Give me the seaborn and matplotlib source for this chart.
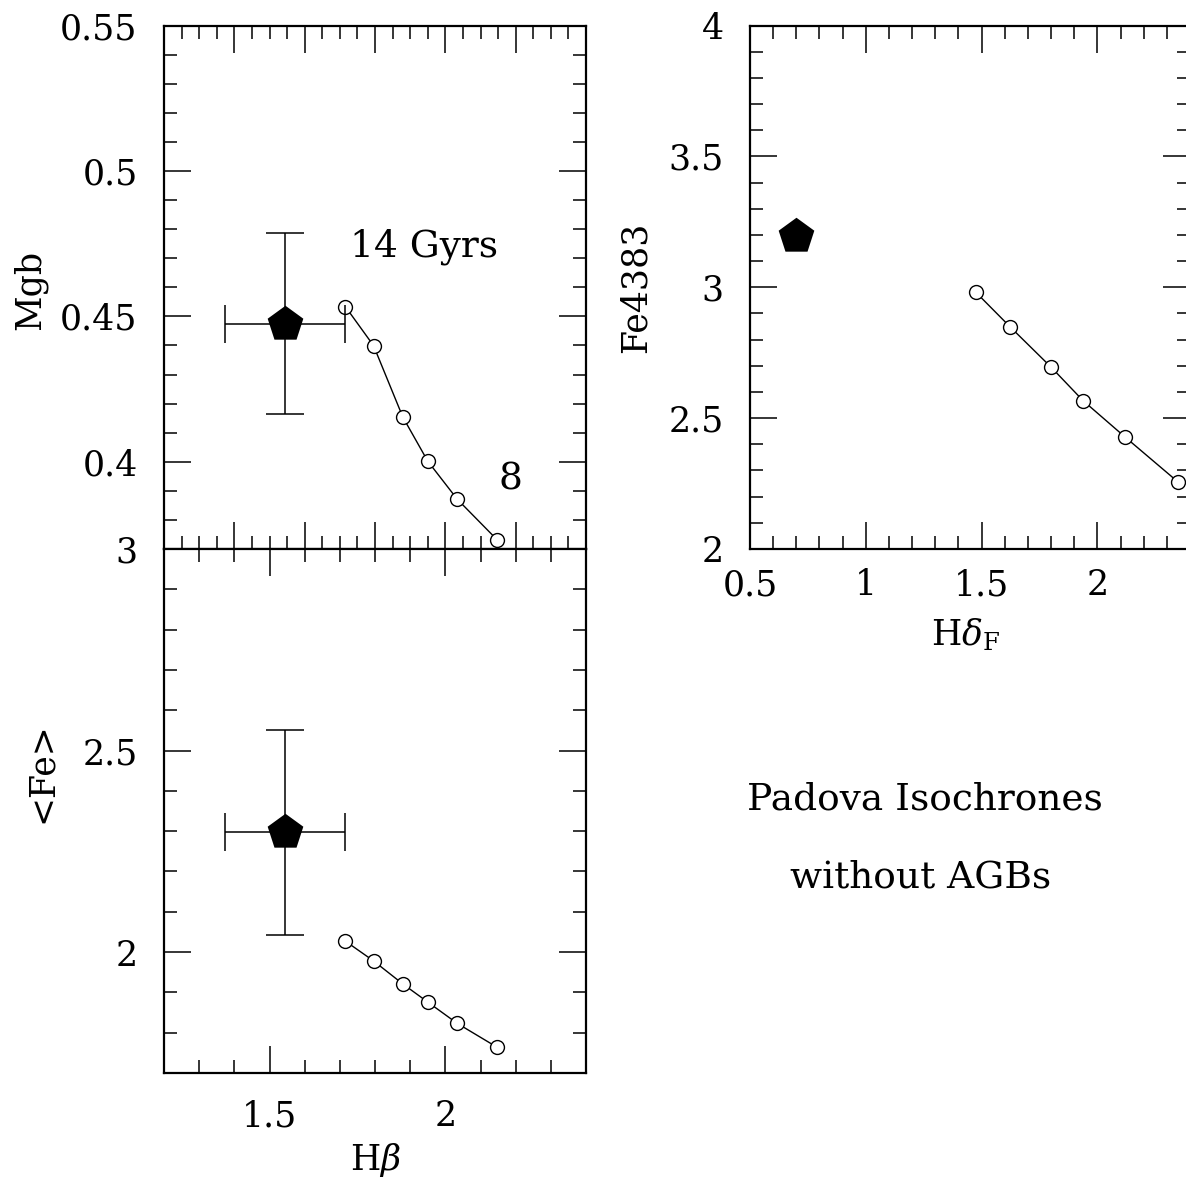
import numpy as np
import pandas as pd
import matplotlib
matplotlib.use("Agg")
import matplotlib.pyplot as plt
from matplotlib.ticker import MultipleLocator, FuncFormatter
import seaborn as sns

# ---------------- data ----------------
# model grid (Padova isochrones, without AGBs), 14 Gyr -> 8 Gyr
hbeta_model = [1.716, 1.796, 1.879, 1.950, 2.034, 2.147]
mgb_model = [0.4533, 0.4399, 0.4154, 0.4002, 0.3871, 0.3732]
fe_model = [2.027, 1.978, 1.921, 1.876, 1.823, 1.764]
hdelta_model = [1.475, 1.624, 1.801, 1.938, 2.118, 2.347]
fe4383_model = [2.981, 2.848, 2.694, 2.567, 2.429, 2.257]

# observed point
obs_hbeta = [1.544]
obs_hbeta_err = [0.171]
obs_mgb = [0.4475]
obs_mgb_err = [0.031]
obs_fe = [2.297]
obs_fe_err = [0.255]
obs_hdelta = [0.698]
obs_fe4383 = [3.196]

# ---------------- style ----------------
sns.set_theme(style="ticks")
plt.rcParams["font.family"] = ["DejaVu Serif"]
plt.rcParams["mathtext.fontset"] = "dejavuserif"
plt.rcParams["text.color"] = "black"
plt.rcParams["axes.labelcolor"] = "black"
plt.rcParams["xtick.color"] = "black"
plt.rcParams["ytick.color"] = "black"

W, H = 1186, 1179
fig = plt.figure(figsize=(W / 100, H / 100), dpi=100)
fig.patch.set_facecolor("white")

def rect(x0, y0, x1, y1):
    return [x0 / W, 1 - y1 / H, (x1 - x0) / W, (y1 - y0) / H]

ax1 = fig.add_axes(rect(164, 25.5, 586, 549))
ax2 = fig.add_axes(rect(164, 549, 586, 1073))
ax3 = fig.add_axes(rect(750, 25.5, 1190, 549))

gfmt = FuncFormatter(lambda v, p: "%g" % round(v, 4))
TICK_FS = 25
LAB_FS = 25

def style_axes(ax):
    ax.set_facecolor("white")
    for s in ax.spines.values():
        s.set_visible(True)
        s.set_linewidth(1.6)
        s.set_color("black")
    ax.tick_params(which="both", direction="in", top=True, right=True,
                   bottom=True, left=True, color="black", width=1.1,
                   labelsize=TICK_FS, pad=19, labelcolor="black")
    ax.tick_params(which="major", length=19.5)
    ax.tick_params(which="minor", length=9.5)
    ax.grid(False)

model_kw = dict(color="black", linewidth=1.0, marker="o", markersize=10,
                markerfacecolor="white", markeredgecolor="black",
                markeredgewidth=1.0, sort=False, estimator=None, legend=False)
err_kw = dict(fmt="none", ecolor="black", elinewidth=1.1, capsize=14,
              capthick=1.1, zorder=2)
pent_kw = dict(marker="p", s=27 ** 2, color="black", edgecolor="black",
               linewidth=0, zorder=4, legend=False)

# ---- top-left: Mgb vs Hbeta ----
style_axes(ax1)
df1 = pd.DataFrame({"x": hbeta_model, "y": mgb_model})
sns.lineplot(data=df1, x="x", y="y", ax=ax1, **model_kw)
ax1.errorbar(obs_hbeta, obs_mgb, xerr=obs_hbeta_err, yerr=obs_mgb_err, **err_kw)
sns.scatterplot(x=obs_hbeta, y=obs_mgb, ax=ax1, **pent_kw)
ax1.set_xlim(1.2, 2.4)
ax1.set_ylim(0.37, 0.55)
ax1.xaxis.set_major_locator(MultipleLocator(0.2))
ax1.xaxis.set_minor_locator(MultipleLocator(0.05))
ax1.yaxis.set_major_locator(MultipleLocator(0.05))
ax1.yaxis.set_minor_locator(MultipleLocator(0.01))
ax1.yaxis.set_major_formatter(gfmt)
ax1.tick_params(axis="x", labelbottom=False)
ax1.set_yticks([0.4, 0.45, 0.5, 0.55])
ax1.set_xlabel("")
ax1.set_ylabel("Mgb", fontsize=LAB_FS)
ax1.yaxis.set_label_coords(-0.318, 0.494)
ax1.yaxis.label.set_va("center")
ax1.text(1.938, 0.474, "14 Gyrs", fontsize=27, ha="center", va="center")
ax1.text(2.185, 0.394, "8", fontsize=27, ha="center", va="center")

# ---- bottom-left: <Fe> vs Hbeta ----
style_axes(ax2)
df2 = pd.DataFrame({"x": hbeta_model, "y": fe_model})
sns.lineplot(data=df2, x="x", y="y", ax=ax2, **model_kw)
ax2.errorbar(obs_hbeta, obs_fe, xerr=obs_hbeta_err, yerr=obs_fe_err, **err_kw)
sns.scatterplot(x=obs_hbeta, y=obs_fe, ax=ax2, **pent_kw)
ax2.set_xlim(1.2, 2.4)
ax2.set_ylim(1.7, 3.0)
ax2.xaxis.set_major_locator(MultipleLocator(0.5))
ax2.xaxis.set_minor_locator(MultipleLocator(0.1))
ax2.yaxis.set_major_locator(MultipleLocator(0.5))
ax2.yaxis.set_minor_locator(MultipleLocator(0.1))
ax2.xaxis.set_major_formatter(gfmt)
ax2.yaxis.set_major_formatter(gfmt)
ax2.set_xlabel(r"H$\beta$", fontsize=LAB_FS)
ax2.xaxis.set_label_coords(0.5, -0.166)
ax2.xaxis.label.set_va("center")
ax2.set_ylabel("<Fe>", fontsize=LAB_FS)
ax2.yaxis.set_label_coords(-0.289, 0.574)
ax2.yaxis.label.set_va("center")

# ---- right: Fe4383 vs HdeltaF ----
style_axes(ax3)
df3 = pd.DataFrame({"x": hdelta_model, "y": fe4383_model})
sns.lineplot(data=df3, x="x", y="y", ax=ax3, **model_kw)
sns.scatterplot(x=obs_hdelta, y=obs_fe4383, ax=ax3, **pent_kw)
ax3.set_xlim(0.5, 2.4)
ax3.set_ylim(2.0, 4.0)
ax3.xaxis.set_major_locator(MultipleLocator(0.5))
ax3.xaxis.set_minor_locator(MultipleLocator(0.1))
ax3.yaxis.set_major_locator(MultipleLocator(0.5))
ax3.yaxis.set_minor_locator(MultipleLocator(0.1))
ax3.xaxis.set_major_formatter(gfmt)
ax3.yaxis.set_major_formatter(gfmt)
ax3.tick_params(axis="x", pad=14)
ax3.set_xlabel(r"H$\delta_{\rm F}$", fontsize=LAB_FS)
ax3.xaxis.set_label_coords(0.489, -0.164)
ax3.xaxis.label.set_va("center")
ax3.set_ylabel("Fe4383", fontsize=LAB_FS)
ax3.yaxis.set_label_coords(-0.261, 0.5)
ax3.yaxis.label.set_va("center")

fig.text(925 / W, 1 - 800 / H, "Padova Isochrones", fontsize=27,
         ha="center", va="center")
fig.text(921 / W, 1 - 878 / H, "without AGBs", fontsize=27,
         ha="center", va="center")

fig.savefig("out.png", dpi=100, facecolor="white")
